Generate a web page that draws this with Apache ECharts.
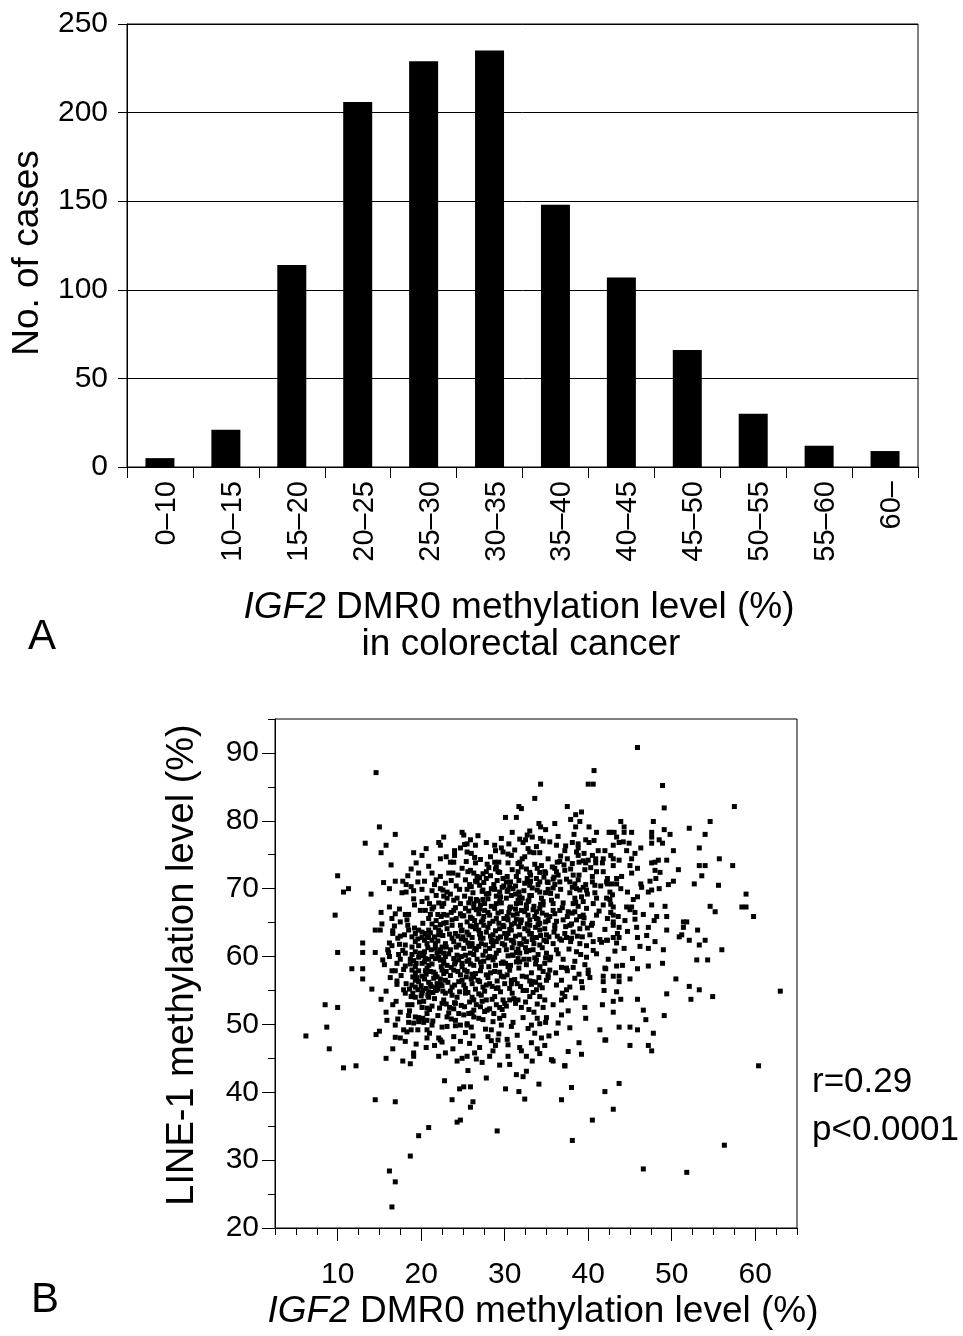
<!DOCTYPE html>
<html><head><meta charset="utf-8">
<script src="https://cdn.jsdelivr.net/npm/echarts@6/dist/echarts.min.js"></script>
<style>html,body{margin:0;padding:0;background:#fff}#chart{width:963px;height:1336px}</style>
</head><body><div id="chart"></div>
<script>
// ---- Panel A: histogram ----
const categories = ['0–10','10–15','15–20','20–25','25–30','30–35','35–40','40–45','45–50','50–55','55–60','60–'];
const caseCounts = [5, 21, 114, 206, 229, 235, 148, 107, 66, 30, 12, 9];
const barYMax = 250;
const barYStep = 50;

// ---- Panel B: scatter (IGF2 DMR0 %, LINE-1 %) ----
const scatterXTicks = [10, 20, 30, 40, 50, 60];
const scatterYTicks = [20, 30, 40, 50, 60, 70, 80, 90];
const statLines = ['r=0.29', 'p<0.0001'];
const scatterPoints = [
[14.6,87.1],[15.0,79.1],[16.9,78.0],[13.3,76.7],[15.8,76.4],[15.2,75.3],[22.1,76.8],[22.3,76.4],[19.1,75.3],[20.1,74.9],[22.3,74.4],[19.4,73.8],[10.0,71.9],[18.4,71.9],[19.7,72.3],[21.3,72.3],[16.9,71.1],[17.8,71.1],[18.2,70.6],[20.4,71.1],[10.7,69.5],[11.3,70.0],[14.0,69.2],[16.2,70.0],[18.2,69.5],[18.8,70.3],[19.1,69.7],[20.1,69.9],[21.3,69.7],[22.3,70.0],[22.7,68.9],[19.1,68.5],[20.1,68.1],[21.0,67.8],
[40.7,87.4],[34.3,85.4],[40.0,85.4],[40.6,85.4],[33.6,83.3],[31.7,82.1],[32.0,81.8],[37.5,82.1],[30.1,80.5],[31.4,80.5],[38.5,80.9],[39.2,81.3],[34.3,79.1],[34.9,78.7],[38.5,79.1],[40.1,79.1],[41.0,78.3],[42.5,78.3],[24.9,78.3],[25.1,77.9],[25.9,77.2],[25.5,76.6],[26.5,76.4],[28.8,76.4],[32.7,77.9],[33.3,77.6],[34.3,77.4],[32.2,76.8],[32.5,77.2],[36.2,76.4],[38.1,76.8],[38.8,76.6],[38.8,76.0],[40.1,76.8],[40.7,77.1],[42.0,75.6],[24.0,75.6],[24.0,74.9],[25.5,75.4],[29.6,76.0],[29.8,75.4],[30.4,75.1],[30.8,74.9],[33.0,75.4],[33.5,75.3],[34.2,75.3],[37.2,75.6],[36.7,74.8],[37.5,74.4],[38.8,74.9],[39.5,75.2],[40.5,74.9],[41.8,74.4],[23.5,73.9],[23.9,73.9],[26.4,74.6],[26.5,73.8],[28.8,73.9],[29.0,73.2],[30.4,73.8],[31.8,73.9],[32.1,74.4],[35.2,74.4],[36.3,73.9],[38.1,73.7],[38.9,73.9],[39.7,73.8],[40.0,74.2],[40.9,74.4],[40.9,73.8],[41.7,73.8],[24.9,73.0],[25.9,72.7],[23.3,72.3],[23.8,72.3],[26.7,71.8],[27.4,72.2],[27.8,72.5],[28.9,72.9],[29.2,72.5],[31.6,72.5],[32.6,72.9],[33.0,72.4],[33.9,73.0],[34.2,72.4],[34.9,72.3],[36.0,73.0],[36.2,72.5],[36.4,72.0],[37.2,72.7],[38.2,72.0],[38.9,72.0],[40.5,71.8],[41.0,72.5],[41.8,72.5],[42.2,71.0],[22.3,71.8],[23.1,69.5],[26.7,71.0],[27.0,70.5],[27.8,71.5],[29.1,71.2],[29.8,71.5],[30.2,71.0],[30.7,71.0],[31.4,71.8],[31.7,71.2],[32.7,71.5],[32.9,71.0],[33.0,70.5],[33.8,71.5],[34.2,71.0],[35.1,71.0],[35.8,71.4],[36.0,70.6],[36.6,71.0],[37.8,71.0],[38.4,70.7],[38.6,70.0],[39.0,69.8],[39.4,70.2],[39.8,69.8],[40.5,71.0],[40.8,70.5],[25.5,69.9],[25.9,68.5],[27.4,69.8],[27.8,69.2],[28.8,69.9],[29.4,69.5],[30.4,69.8],[30.8,69.0],[31.7,69.5],[31.8,68.8],[33.0,69.0],[34.2,69.5],[34.4,68.6],[35.2,69.9],[35.5,69.3],[35.8,70.1],[38.4,68.6],[39.4,68.1],[41.0,68.6],[42.2,68.6],[23.1,68.6],[23.9,68.3],[26.6,68.4],[27.4,68.4],[29.4,68.1],[31.6,68.3],[32.8,68.1],
[45.9,90.8],[48.9,85.2],[49.1,81.9],[57.5,82.1],[54.6,79.9],[47.8,79.9],[43.9,79.9],[44.3,79.1],[42.7,78.3],[43.1,78.3],[44.3,78.3],[45.2,78.3],[43.4,77.6],[47.6,78.3],[47.6,77.6],[49.1,78.7],[49.8,78.0],[52.1,78.9],[54.0,78.0],[43.0,76.4],[43.7,76.8],[44.9,76.7],[47.6,76.7],[48.5,77.2],[48.9,76.7],[46.3,76.0],[45.6,75.2],[44.6,75.6],[50.2,75.6],[53.3,76.0],[43.0,74.4],[43.7,74.2],[45.2,74.4],[47.6,73.8],[48.0,73.9],[48.4,74.2],[49.4,74.2],[55.7,74.4],[43.0,73.4],[45.0,73.4],[48.0,72.7],[50.8,72.8],[53.3,73.4],[54.0,73.4],[57.3,73.4],[45.2,72.3],[53.6,71.9],[42.3,71.5],[43.4,71.5],[42.3,70.7],[42.8,70.7],[43.4,70.7],[46.3,70.7],[48.1,71.5],[50.2,71.1],[52.7,70.7],[43.9,70.0],[42.6,69.5],[44.7,69.5],[47.2,69.5],[47.6,69.8],[48.5,70.0],[45.9,68.8],[42.6,68.4],[58.9,69.2],
[9.7,66.1],[15.2,66.5],[16.2,67.3],[18.1,66.2],[18.5,66.2],[21.5,67.3],[22.5,67.4],[21.1,66.2],[22.0,66.2],[22.7,66.2],[16.5,65.6],[17.5,65.1],[21.3,64.8],[22.3,64.7],[14.5,63.9],[15.1,63.9],[16.6,63.8],[16.6,63.4],[18.4,64.6],[18.5,63.9],[19.3,63.4],[19.7,63.9],[20.1,63.6],[20.5,63.4],[20.9,63.9],[22.1,63.9],[22.1,63.2],[18.9,62.9],[20.1,62.8],[20.9,62.8],[21.3,62.4],[13.0,62.0],[16.2,62.0],[16.5,61.6],[17.4,61.8],[18.1,61.7],[19.3,62.2],[19.7,61.6],[20.7,61.9],[21.7,61.9],[22.5,61.4],[10.0,60.6],[13.0,60.6],[14.5,60.6],[16.1,60.6],[18.1,60.5],[18.9,60.3],[19.3,60.7],[19.9,60.5],[20.4,60.7],[21.9,60.5],[22.3,60.7],[15.4,59.5],[17.3,60.3],[17.5,59.6],[18.7,59.6],[19.1,59.4],[19.7,59.9],[20.5,59.7],[20.9,59.6],[21.7,59.7],[22.3,59.5],[22.7,59.0],[17.1,59.0],[18.1,58.6],[19.3,58.5],[20.1,59.0],[20.9,58.7],[11.7,58.2],[13.0,58.2],[16.5,57.9],[16.9,57.9],[18.9,58.0],[19.3,57.6],[19.7,57.9],[20.5,57.9],[21.1,57.8],[21.7,57.4],[22.5,58.0],[13.0,56.7],[17.1,56.4],[17.1,55.9],[19.0,57.0],[19.3,56.5],[19.7,56.3],[20.4,56.7],[21.5,56.8],[22.3,56.7],[18.9,55.8],[19.3,55.5],[20.0,55.7],[20.6,55.3],[21.2,55.6],[21.7,55.4],[22.5,55.7],[14.1,55.2],[15.8,54.9],[17.9,55.1],[18.1,54.6],[19.6,55.1],[20.1,54.6],[20.9,54.8],[22.0,55.2],[15.2,53.7],[18.8,54.1],[19.3,54.0],[20.9,54.0],[8.5,52.9],[10.0,52.5],[16.6,52.9],[18.4,52.9],[18.9,52.9],[20.1,52.5],[20.7,52.4],[21.3,52.7],[22.5,53.1],[15.8,51.8],[17.5,51.8],[18.5,51.3],[19.3,51.1],[20.7,51.6],[20.7,50.6],[19.7,51.0],[8.7,49.6],[16.9,49.9],[18.5,50.3],[19.7,50.4],[20.3,50.3],[21.3,49.9],[22.5,49.6],[17.9,49.2],[18.8,49.2],[19.6,49.2],[20.7,49.2],[6.2,48.3],[14.6,48.5],[15.0,49.0],[16.9,48.1],[17.5,48.0],[18.1,47.5],[20.7,48.0],[22.1,48.0],[22.5,47.4],[9.0,46.4],[16.6,46.4],[19.1,45.8],[19.1,45.3],[22.1,45.3],[15.8,45.0],[17.8,44.6],[18.7,44.2],[10.7,43.6],[12.2,43.9],
[22.8,41.7],[14.5,38.9],[16.9,38.6],[20.9,34.8],[19.7,33.6],[18.7,30.6],[16.2,28.4],[16.9,26.8],[16.5,23.1],
[24.6,40.5],[25.1,40.8],[25.9,40.8],[23.7,38.9],[26.2,38.6],[25.9,37.8],[24.3,35.6],[24.7,35.9],[29.1,34.3],[31.7,40.1],[32.2,42.3],[32.6,43.1],[37.2,43.9],[36.8,38.9],[40.5,35.9],[38.1,32.9],[42.0,40.1],
[43.7,41.3],[43.0,37.5],[60.4,43.9],[56.3,32.2],[46.6,28.7],[51.8,28.2],
[43.0,67.3],[42.7,66.5],[43.0,66.1],[44.6,67.3],[45.2,67.3],[45.0,66.9],[45.6,66.5],[43.6,65.9],[42.3,65.6],[43.0,65.1],[43.0,64.6],[45.6,65.5],[47.6,67.6],[48.2,65.9],[49.4,65.9],[47.2,64.3],[43.7,64.3],[49.4,63.9],[51.4,65.1],[51.8,65.1],[51.4,64.3],[53.1,63.9],[54.6,67.4],[58.4,67.3],[58.9,67.3],[59.8,65.9],[42.3,62.4],[43.0,62.8],[43.7,62.8],[43.4,62.0],[45.9,62.8],[44.3,61.2],[47.2,61.2],[50.9,62.9],[51.2,63.2],[52.1,62.4],[53.3,61.7],[54.0,62.4],[48.9,59.0],[53.0,59.5],[54.3,59.5],[43.4,58.6],[45.9,58.2],[47.2,58.6],[42.1,58.2],[43.0,57.1],[43.7,57.1],[45.0,56.7],[43.7,56.3],[50.5,56.7],[52.1,55.6],[53.3,55.1],[43.4,54.8],[49.4,54.5],[54.9,54.1],[43.0,53.4],[43.9,53.7],[45.9,53.7],[52.3,53.7],[46.6,52.1],[46.9,50.7],[49.1,51.3],[43.7,49.6],[45.0,49.6],[45.9,49.2],[47.8,48.7],[42.1,47.7],[45.0,46.9],[47.2,46.9],[47.6,46.1],[63.0,54.9],
[22.7,67.8],[24.7,67.8],[26.3,67.8],[27.1,67.6],[29.0,67.8],[31.4,67.8],[32.6,67.6],[34.6,67.6],[35.8,67.8],[38.2,67.8],[40.6,67.8],[41.8,67.6],
[23.1,66.1],[23.9,66.8],[24.7,66.3],[25.3,67.1],[26.3,67.2],[26.9,66.3],[27.6,66.8],[28.2,66.1],[28.8,67.1],[29.6,66.6],[30.6,67.1],[31.0,66.1],[32.0,66.8],[32.8,66.1],[33.8,66.6],[34.2,67.1],[35.0,66.1],[36.0,66.3],[36.6,66.8],[37.6,66.6],[38.4,66.6],[39.4,66.1],[39.8,67.1],[41.0,66.1],
[22.7,64.9],[23.7,65.4],[24.7,64.6],[25.5,65.1],[26.1,65.6],[26.6,64.6],[27.4,65.4],[28.2,64.9],[29.0,65.6],[29.8,64.6],[30.4,65.4],[31.2,64.9],[32.0,65.4],[33.0,64.6],[33.8,65.6],[34.2,64.9],[35.2,65.3],[36.0,64.6],[37.0,65.4],[37.8,64.6],[38.6,65.4],[39.4,64.9],[40.4,64.6],
[22.3,63.6],[23.1,64.1],[24.1,63.4],[24.9,63.9],[25.7,63.2],[26.5,64.1],[27.1,63.4],[27.8,63.6],[28.6,63.2],[29.4,64.1],[30.0,63.4],[30.8,63.9],[31.8,63.2],[32.4,64.1],[33.2,63.4],[34.2,63.9],[35.0,63.2],[36.0,64.1],[37.2,63.4],[38.2,63.6],[39.0,64.1],[40.2,63.2],[42.2,62.4],
[22.9,61.9],[23.7,62.7],[24.5,61.7],[25.3,62.4],[26.1,61.9],[27.1,62.7],[27.7,61.7],[28.4,62.2],[29.2,62.7],[30.0,61.7],[30.8,62.4],[31.8,61.9],[32.6,62.2],[33.4,62.7],[34.2,61.7],[35.0,62.2],[35.8,61.9],[36.8,62.4],[38.0,62.7],[39.0,61.9],[40.6,62.2],[41.4,62.5],
[22.7,60.5],[23.5,61.0],[24.3,60.2],[25.1,61.2],[25.9,60.5],[26.6,61.0],[27.4,60.2],[28.2,61.2],[29.0,60.5],[30.2,61.0],[31.0,60.2],[31.6,59.7],[31.8,60.5],[32.6,60.7],[33.4,61.0],[33.8,59.5],[35.0,60.5],[36.2,61.0],[38.6,60.7],[39.8,59.9],
[22.3,59.5],[23.1,58.7],[24.1,59.2],[24.9,58.5],[25.7,59.5],[26.3,58.7],[27.1,59.2],[28.1,58.5],[28.6,59.5],[29.6,59.0],[30.4,58.5],[31.4,59.2],[34.2,58.5],[34.8,59.0],[35.4,59.5],[37.4,58.3],[40.0,58.0],[42.0,58.3],
[22.7,57.5],[23.9,58.0],[24.7,57.3],[25.5,57.8],[26.3,57.0],[27.1,57.9],[27.8,57.3],[28.8,57.8],[29.6,57.1],[30.6,58.0],[30.8,56.5],[33.0,56.4],[33.4,56.3],[34.2,55.8],[35.0,56.5],[35.2,57.3],[35.4,58.0],[36.2,55.8],[38.4,56.8],[39.2,56.3],[40.0,57.5],
[22.3,56.0],[22.9,56.5],[23.7,55.5],[24.5,56.3],[25.3,55.3],[26.1,56.0],[26.8,56.5],[27.4,55.5],[28.2,56.0],[29.0,55.3],[30.0,56.0],[30.6,55.3],[32.6,55.0],[33.8,55.1],[37.4,55.1],[37.8,55.5],[41.8,57.1],[41.8,56.3],
[22.7,53.6],[23.7,54.3],[24.1,53.1],[25.3,54.6],[26.3,53.6],[27.2,54.3],[27.8,53.6],[28.8,54.1],[29.8,53.6],[30.6,53.6],[31.6,53.6],[33.0,54.1],[34.2,54.1],[36.8,53.6],[37.2,54.1],[39.6,52.5],[41.7,52.9],
[23.9,52.3],[25.1,51.4],[25.7,51.6],[26.3,52.1],[27.1,52.6],[27.6,51.9],[28.2,52.3],[29.4,52.5],[30.0,53.1],[32.0,52.5],[34.6,52.5],[35.0,51.0],[36.8,51.4],[23.1,51.1],[24.1,50.6],[25.5,50.1],[26.3,51.1],
[23.1,49.7],[24.1,49.8],[24.7,49.9],[25.5,49.9],[27.4,50.7],[28.4,49.2],[29.4,50.9],[29.6,49.9],[30.8,49.7],[33.2,49.9],[34.2,50.1],[33.6,48.7],[36.2,48.7],[26.2,48.3],[28.0,48.2],[28.4,47.6],[29.2,47.7],[30.4,47.0],[41.4,49.2],[42.0,47.7],
[22.3,47.7],[33.2,47.3],[34.2,45.7],[34.8,46.9],[32.0,46.1],[28.6,46.1],[30.4,45.3],[32.6,45.3],[25.5,45.3],[24.9,45.0],[26.6,44.9],[35.8,44.6],[37.2,43.9],
[15.6,58.8],[16.0,61.0],[16.3,56.9],[16.8,64.5],[17.0,53.4],[17.2,62.7],[17.6,57.2],[17.8,60.9],[18.0,63.2],[18.2,56.0],[18.3,65.4],[18.6,52.0],[18.7,58.9],[18.9,61.4],[19.0,54.6],[19.2,64.2],[19.4,59.0],[19.5,56.9],[19.6,62.6],[19.8,53.3],[19.9,66.8],[19.2,67.6],[17.4,67.0],[15.5,70.9],[16.4,73.5],[17.7,69.4],[18.8,72.9],[19.6,71.0],[15.9,50.6],[17.2,50.8],[18.3,48.9],[19.4,47.1],[16.2,60.0],[17.9,58.1],[18.6,55.2],[19.1,50.2],[15.3,64.8],[16.9,66.3],[19.8,60.2],[17.5,63.0],
[20.2,50.9],[21.4,50.5],[22.0,51.3],[23.6,50.8],[24.5,51.6],[21.0,48.7],[23.9,48.2],[24.7,47.5],
[20.3,53.4],[21.0,52.2],[21.6,53.8],[22.2,52.4],[23.0,53.0],[23.4,52.5],[24.3,54.0],[24.8,52.8],[20.0,54.2],[22.9,54.6],
[20.2,55.0],[20.9,56.2],[21.4,54.7],[21.9,56.0],[22.6,54.9],[23.2,56.2],[23.5,54.9],[24.0,55.8],[24.6,54.8],[24.9,56.5],[21.1,55.9],[22.0,55.8],
[20.1,57.1],[20.7,58.3],[21.3,58.9],[21.9,57.0],[22.4,58.5],[23.0,57.8],[23.5,57.2],[24.0,58.9],[24.4,57.8],[24.9,59.0],[20.6,57.4],[23.6,58.4],
[20.3,60.1],[20.8,61.3],[21.3,60.0],[21.7,61.2],[22.1,59.9],[22.9,60.0],[23.3,60.4],[23.9,59.7],[24.2,61.4],[24.8,60.0],[21.2,61.0],[23.0,61.4],
[20.4,62.4],[20.7,63.0],[21.6,62.9],[22.0,62.3],[22.6,63.1],[23.4,63.3],[23.9,62.2],[24.4,63.0],[24.8,62.6],[21.1,63.5],
[20.2,64.9],[20.9,65.6],[21.8,65.3],[22.4,65.9],[23.0,65.0],[23.6,66.5],[24.2,65.6],[24.9,66.0],[20.5,66.8],[21.7,64.3],
[20.7,68.6],[21.8,69.0],[22.1,67.9],[23.5,69.2],[24.1,67.2],[24.6,69.9],[24.3,68.6],[21.6,70.6],
[20.9,73.3],[21.8,71.3],[22.9,70.8],[23.6,71.2],[24.4,72.0],[24.7,76.0],[23.0,74.7],[20.6,75.9],[24.2,70.4],[22.7,77.6],
[20.6,46.6],[21.6,46.9],[23.8,46.4],[24.3,44.6],[22.9,45.8],
[20.4,59.2],[21.5,57.7],[22.7,59.3],[23.7,64.6],[24.5,59.5],[22.3,61.0],[21.8,55.0],[20.8,54.3],[24.0,53.2],[23.3,51.7],[22.6,69.8],[21.3,67.0],[24.8,63.8],
[25.3,48.8],[26.0,49.6],[26.9,50.9],[27.7,49.3],[28.6,50.4],[29.3,48.6],[29.9,51.3],[25.8,47.2],[27.0,46.6],[28.9,46.9],
[25.2,52.6],[25.8,53.3],[26.6,52.9],[27.3,53.4],[27.9,52.1],[28.5,53.7],[29.0,52.9],[29.7,52.2],[26.1,51.7],[28.7,51.6],
[25.1,55.8],[25.6,54.7],[26.0,56.7],[26.5,55.2],[27.0,56.3],[27.6,54.9],[28.0,56.9],[28.5,55.6],[29.1,56.4],[29.5,54.8],[29.9,57.0],[26.9,54.5],
[25.2,58.0],[25.9,58.9],[26.5,57.5],[27.2,58.5],[27.5,59.3],[28.3,57.6],[28.9,58.7],[29.4,57.7],[29.8,59.2],[26.1,57.4],[28.0,59.8],[25.5,59.3],
[25.3,60.2],[25.8,61.5],[26.3,60.3],[26.9,61.5],[27.7,60.8],[28.2,60.0],[28.6,61.6],[29.3,60.9],[29.7,61.9],[27.2,61.9],[25.6,62.0],[29.0,62.2],
[25.0,62.9],[25.5,63.6],[26.1,62.8],[26.9,63.9],[27.4,62.7],[28.0,64.3],[28.3,63.0],[28.9,63.8],[29.5,62.9],[29.9,64.4],[26.2,64.4],[27.5,64.6],
[25.1,66.0],[25.7,66.7],[26.4,65.3],[27.0,67.0],[27.5,65.9],[28.0,66.5],[28.6,65.2],[29.2,66.4],[29.9,65.6],[25.9,65.8],[28.4,67.4],[26.6,66.9],
[25.2,68.9],[25.7,67.9],[26.2,69.4],[26.8,68.2],[27.3,69.6],[28.0,68.5],[28.4,70.0],[29.0,68.9],[29.6,67.9],[29.9,70.4],[26.0,70.3],[27.6,67.8],
[25.3,71.3],[25.8,70.6],[26.3,72.3],[27.0,71.6],[27.5,70.9],[28.3,71.9],[28.7,70.6],[29.4,72.4],[29.7,70.2],[25.6,72.5],[28.1,73.1],
[25.4,74.0],[26.0,75.2],[27.1,74.3],[27.8,76.8],[28.3,74.7],[29.3,73.9],[29.6,77.4],[26.8,77.8],[27.9,73.6],[25.2,76.5],
[25.6,43.2],[26.4,45.8],[27.3,44.4],[28.2,45.3],[29.4,44.0],[27.8,42.1],
[25.4,57.0],[26.7,59.6],[27.8,55.8],[28.8,59.9],[29.2,55.4],[26.4,61.2],[28.5,62.4],[27.2,65.1],[29.5,68.8],[26.5,71.1],[28.9,75.6],[25.9,64.5],[27.0,63.3],[29.3,64.9],[26.1,54.0],[28.1,69.3],
[30.3,47.8],[31.0,50.3],[31.5,48.4],[32.2,51.0],[32.8,49.4],[33.5,51.8],[34.4,48.0],[34.9,50.3],[31.8,46.6],[33.9,46.4],
[30.2,52.7],[30.9,54.6],[31.3,53.1],[31.9,55.6],[32.5,53.3],[32.9,52.2],[33.4,54.7],[33.9,53.0],[34.5,55.4],[34.8,53.6],[31.5,56.0],[33.2,55.9],
[30.3,57.3],[30.7,58.7],[31.2,56.6],[31.7,58.3],[32.1,57.1],[32.6,58.8],[33.2,57.6],[33.7,58.9],[34.1,56.9],[34.6,57.8],[30.1,59.0],[32.9,59.6],
[30.4,60.1],[30.9,61.3],[31.4,60.6],[32.0,61.8],[32.3,59.6],[32.9,60.9],[33.5,61.9],[34.0,60.3],[34.5,61.3],[34.9,59.8],[31.1,62.0],[33.6,59.8],
[30.2,62.7],[30.6,64.0],[31.3,63.0],[31.7,64.4],[32.3,62.6],[32.8,63.8],[33.3,62.5],[33.7,64.3],[34.3,63.1],[34.8,64.1],[31.0,62.3],[33.0,63.3],
[30.3,65.9],[30.8,64.7],[31.5,66.3],[31.9,65.0],[32.4,66.6],[33.0,65.4],[33.4,66.9],[34.0,65.5],[34.5,66.4],[34.9,65.1],[31.3,67.0],[33.6,65.9],
[30.2,68.6],[30.7,67.3],[31.3,69.2],[31.9,67.9],[32.3,69.7],[32.9,68.3],[33.5,67.4],[33.9,69.8],[34.6,68.1],[34.9,69.4],[31.0,70.0],[32.6,67.1],
[30.3,71.8],[30.9,72.8],[31.3,70.4],[32.0,73.2],[32.4,70.8],[33.1,72.0],[33.6,73.6],[34.0,70.6],[34.7,71.7],[34.4,73.4],[30.6,70.3],[33.3,70.1],
[30.5,76.6],[31.2,75.7],[31.8,77.3],[32.4,74.7],[33.0,78.5],[33.8,76.2],[34.6,77.0],[34.1,79.6],[30.9,78.3],[32.8,75.9],
[30.6,44.1],[31.4,42.6],[33.3,44.6],[34.1,41.2],[32.4,39.0],[30.1,40.5],
[31.6,61.1],[32.7,64.8],[30.5,66.5],[33.8,62.8],[34.2,58.3],[31.8,59.2],[30.8,56.0],[32.1,68.6],[33.1,71.1],[34.7,62.4],[30.4,63.4],[31.6,73.7],[32.2,55.0],[34.3,67.7],[33.9,50.9],
[30.9,60.2],[32.5,61.3],[34.0,64.7],[31.4,65.5],[33.2,69.0],[30.3,69.6],[34.8,72.5],[32.6,57.0],[31.1,53.8],[33.7,56.2],
[35.3,48.3],[36.4,50.2],[37.8,49.5],[38.9,47.3],[39.7,50.9],[35.8,52.9],[36.9,54.6],[37.6,52.0],[38.5,53.9],[39.3,55.4],[35.2,56.9],[36.1,57.6],[36.8,56.5],[37.5,57.9],[38.2,58.4],[38.9,57.4],[39.6,58.8],[35.5,59.9],[36.4,60.4],[37.0,59.6],[37.7,61.1],[38.4,59.3],[39.1,60.3],[39.8,61.6],[35.3,62.9],[35.9,63.6],[36.6,62.6],[37.3,64.4],[37.9,62.2],[38.7,63.0],[39.3,62.9],[39.9,64.2],[35.4,65.9],[36.2,65.2],[36.9,67.2],[37.5,65.9],[38.1,66.4],[38.8,67.4],[39.5,65.7],[35.6,68.3],[36.3,68.9],[37.0,67.9],[37.8,69.4],[38.5,68.0],[39.2,68.8],[39.9,69.2],[35.2,70.9],[35.9,71.7],[36.7,69.9],[37.4,71.4],[38.1,70.2],[38.8,71.3],[39.6,72.8],[35.7,73.2],[36.6,74.0],[37.1,73.5],[37.9,72.9],[38.6,75.4],[39.4,74.1],[35.4,76.9],[36.4,77.7],[37.3,76.3],[38.3,78.0],[39.7,77.2],[36.0,79.6],[37.9,80.2],[39.0,79.9],[35.6,44.8],[37.6,46.0],[39.2,45.6],[38.0,40.7],[36.3,63.0],[38.0,64.8],[39.0,65.9],[36.8,58.4],[35.8,66.8],[37.4,62.8],[39.7,70.6],
[40.2,56.9],[41.0,60.4],[41.6,62.1],[42.4,59.6],[43.2,60.8],[44.1,58.7],[44.7,63.7],[40.5,64.9],[41.3,66.7],[42.0,64.0],[42.7,67.7],[43.5,63.4],[44.4,65.3],[40.8,69.4],[41.5,70.4],[42.9,69.1],[44.0,71.8],[40.3,73.1],[41.2,75.6],[42.7,74.9],[44.2,76.9],[40.6,60.9],[41.9,55.0],[43.0,51.8],
[45.3,59.7],[46.2,61.5],[47.0,63.1],[48.0,62.2],[49.0,61.0],[45.8,64.3],[46.6,66.2],[47.9,65.3],[49.2,67.4],[45.4,68.4],[46.4,70.2],[47.4,71.1],[48.6,72.4],[49.6,70.6],[45.9,73.0],
[55.6,70.5],[56.0,61.0],[55.2,66.6]
];

const FONT = '"Liberation Sans", Arial, Helvetica, sans-serif';
const chart = echarts.init(document.getElementById('chart'), null, {renderer: 'canvas'});

const tickStyle = {color: '#000', width: 1};
const option = {
  animation: false,
  backgroundColor: '#fff',
  textStyle: {fontFamily: FONT, color: '#000'},
  grid: [
    {left: 127, top: 24, width: 791, height: 443, show: true, borderColor: '#000', borderWidth: 1, backgroundColor: 'transparent'},
    {left: 275, top: 719, width: 522, height: 509, show: true, borderColor: '#000', borderWidth: 1, backgroundColor: 'transparent'}
  ],
  xAxis: [
    {gridIndex: 0, type: 'category', data: categories,
     axisLine: {lineStyle: tickStyle},
     axisTick: {show: true, alignWithLabel: false, length: 11, lineStyle: tickStyle},
     axisLabel: {interval: 0, rotate: 90, fontSize: 29, color: '#000', fontFamily: FONT, margin: 14, verticalAlign: 'top', lineHeight: 14},
     splitLine: {show: false}},
    {gridIndex: 1, type: 'value', min: 2.5, max: 65, interval: 2.5,
     axisLine: {lineStyle: tickStyle},
     axisTick: {show: true, length: 7, lineStyle: tickStyle},
     axisLabel: {show: false}, splitLine: {show: false}},
    {gridIndex: 1, type: 'value', min: 2.5, max: 65, position: 'bottom',
     axisLine: {show: false},
     axisTick: {show: true, length: 13, lineStyle: tickStyle, customValues: scatterXTicks},
     axisLabel: {show: true, customValues: scatterXTicks, fontSize: 30, color: '#000', fontFamily: FONT, margin: 32},
     splitLine: {show: false}}
  ],
  yAxis: [
    {gridIndex: 0, type: 'value', min: 0, max: barYMax, interval: barYStep,
     axisLine: {show: true, lineStyle: tickStyle},
     axisTick: {show: true, length: 9, lineStyle: tickStyle},
     axisLabel: {fontSize: 30, color: '#000', fontFamily: FONT, margin: 19},
     splitLine: {show: true, lineStyle: {color: '#000', width: 1}}},
    {gridIndex: 1, type: 'value', min: 20, max: 95, interval: 5,
     axisLine: {show: true, lineStyle: tickStyle},
     axisTick: {show: true, length: 7, lineStyle: tickStyle},
     axisLabel: {show: false}, splitLine: {show: false}},
    {gridIndex: 1, type: 'value', min: 20, max: 95, position: 'left',
     axisLine: {show: false},
     axisTick: {show: true, length: 13, lineStyle: tickStyle, customValues: scatterYTicks},
     axisLabel: {show: true, customValues: scatterYTicks, fontSize: 30, color: '#000', fontFamily: FONT, margin: 16},
     splitLine: {show: false}}
  ],
  series: [
    {type: 'bar', xAxisIndex: 0, yAxisIndex: 0, data: caseCounts, barWidth: 29,
     itemStyle: {color: '#000'}},
    {type: 'scatter', xAxisIndex: 1, yAxisIndex: 1, data: scatterPoints,
     symbol: 'rect', symbolSize: [5, 5], itemStyle: {color: '#000', opacity: 1}}
  ],
  graphic: [
    {type: 'text', x: 28, y: 253, rotation: Math.PI / 2,
     style: {text: 'No. of cases', font: '37px ' + FONT, fill: '#000', textAlign: 'center', textVerticalAlign: 'middle'}},
    {type: 'text', x: 519, y: 608,
     style: {text: '{i|IGF2} DMR0 methylation level (%)', font: '37px ' + FONT, fill: '#000', textAlign: 'center', textVerticalAlign: 'middle',
       rich: {i: {fontStyle: 'italic', fontSize: 37, fontFamily: FONT}}}},
    {type: 'text', x: 521, y: 645,
     style: {text: 'in colorectal cancer', font: '37px ' + FONT, fill: '#000', textAlign: 'center', textVerticalAlign: 'middle'}},
    {type: 'text', x: 42, y: 637,
     style: {text: 'A', font: '42px ' + FONT, fill: '#000', textAlign: 'center', textVerticalAlign: 'middle'}},
    {type: 'text', x: 183, y: 965, rotation: Math.PI / 2,
     style: {text: 'LINE-1 methylation level (%)', font: '38px ' + FONT, fill: '#000', textAlign: 'center', textVerticalAlign: 'middle'}},
    {type: 'text', x: 543, y: 1312,
     style: {text: '{i|IGF2} DMR0 methylation level (%)', font: '37px ' + FONT, fill: '#000', textAlign: 'center', textVerticalAlign: 'middle',
       rich: {i: {fontStyle: 'italic', fontSize: 37, fontFamily: FONT}}}},
    {type: 'text', x: 45, y: 1300,
     style: {text: 'B', font: '42px ' + FONT, fill: '#000', textAlign: 'center', textVerticalAlign: 'middle'}},
    {type: 'text', x: 812, y: 1082,
     style: {text: statLines[0], font: '35px ' + FONT, fill: '#000', textAlign: 'left', textVerticalAlign: 'middle'}},
    {type: 'text', x: 812, y: 1130,
     style: {text: statLines[1], font: '35px ' + FONT, fill: '#000', textAlign: 'left', textVerticalAlign: 'middle'}}
  ]
};
chart.setOption(option);
</script>
</body></html>
